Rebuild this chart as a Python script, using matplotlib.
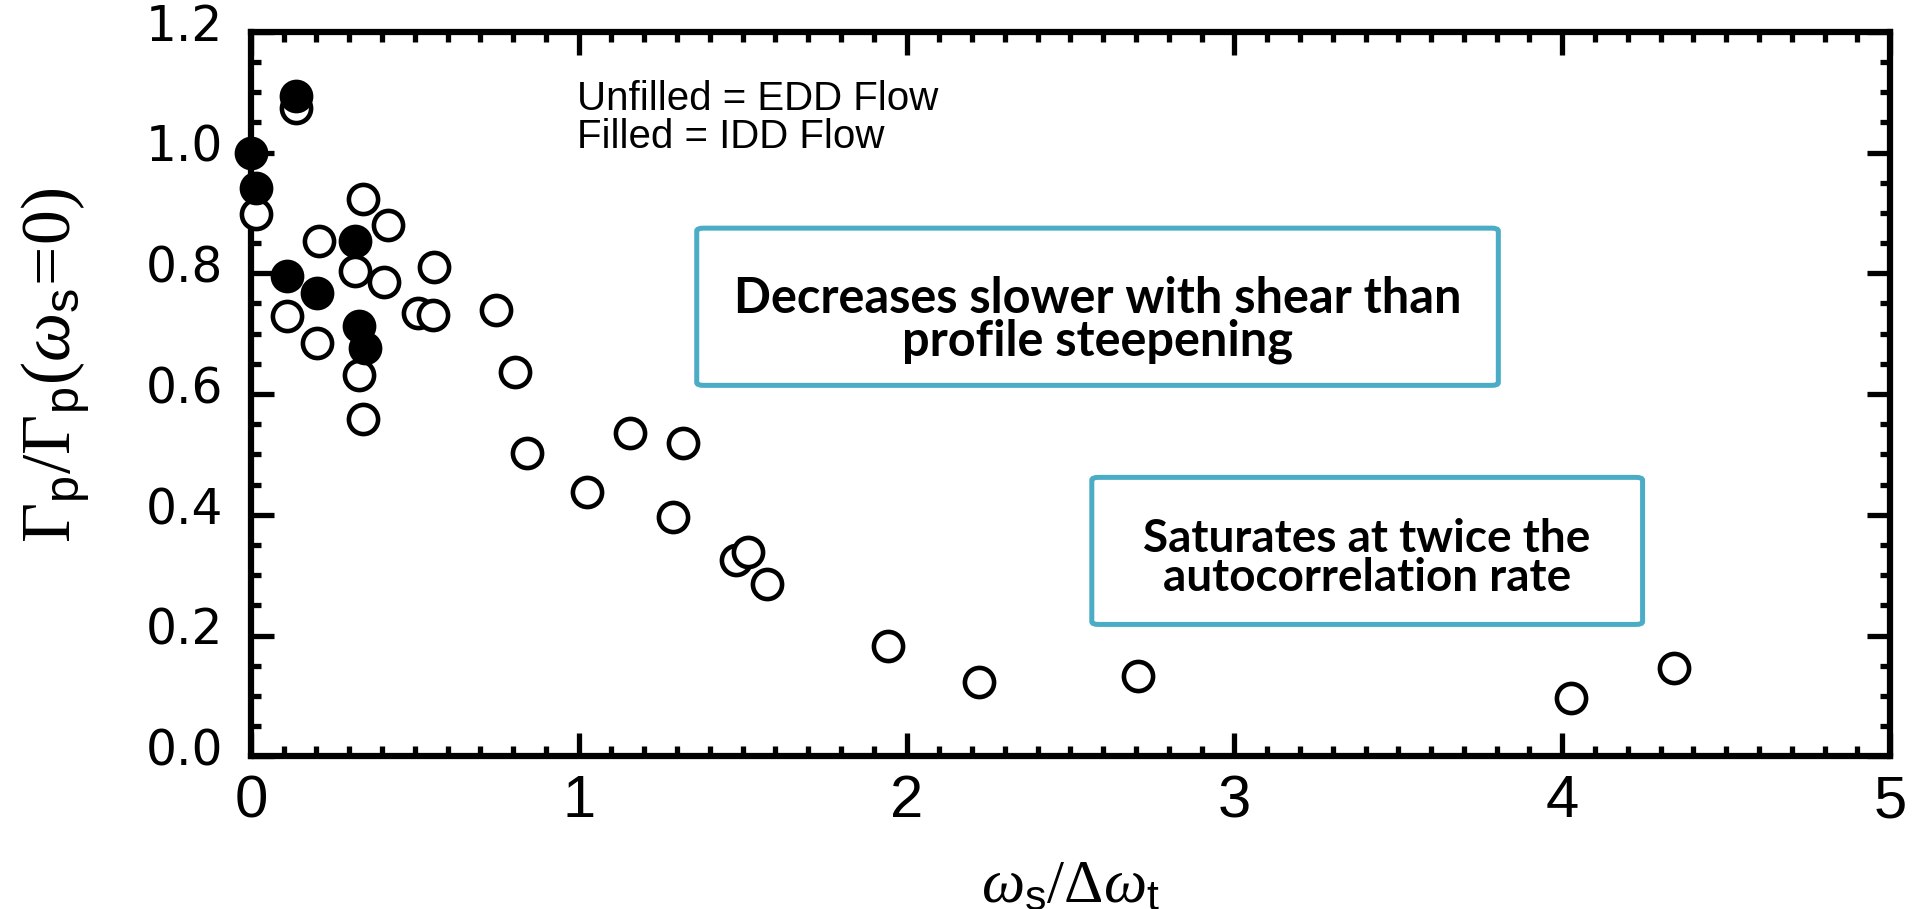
import matplotlib
matplotlib.use("Agg")
import matplotlib.pyplot as plt
from matplotlib.patches import FancyBboxPatch
from matplotlib.ticker import MultipleLocator, FormatStrFormatter
from matplotlib.transforms import ScaledTranslation

# EDD flow runs (open circles): shear rate / decorrelation rate vs normalised flux
edd_shear = [0.139, 0.016, 0.343, 0.419, 0.208, 0.317, 0.406, 0.558, 0.509, 0.556,
             0.749, 0.111, 0.203, 0.331, 0.343, 0.805, 0.841, 1.156, 1.319, 1.024,
             1.288, 1.481, 1.515, 1.573, 1.943, 2.220, 2.705, 4.026, 4.340]
edd_flux = [1.074, 0.898, 0.923, 0.880, 0.853, 0.803, 0.786, 0.810, 0.734, 0.731,
            0.740, 0.729, 0.684, 0.632, 0.558, 0.637, 0.502, 0.536, 0.519, 0.438,
            0.396, 0.325, 0.338, 0.285, 0.183, 0.123, 0.133, 0.097, 0.146]

# IDD flow runs (filled circles)
idd_shear = [0.139, 0.000, 0.016, 0.317, 0.111, 0.203, 0.331, 0.348]
idd_flux = [1.093, 1.000, 0.941, 0.854, 0.795, 0.767, 0.712, 0.676]

key_text = "Unfilled = EDD Flow\nFilled = IDD Flow"
notes = ["Decreases slower with shear than\nprofile steepening",
         "Saturates at twice the\nautocorrelation rate"]
# note boxes in axes fraction: (x0, y0, x1, y1)
note_boxes = [(0.272, 0.512, 0.761, 0.729), (0.513, 0.182, 0.849, 0.385)]
note_sizes = [35, 33]
note_shift = [-0.018, -0.010]

plt.rcParams['mathtext.fontset'] = 'custom'
plt.rcParams['mathtext.rm'] = 'Liberation Serif'
plt.rcParams['mathtext.it'] = 'Liberation Serif:italic'
plt.rcParams['mathtext.sf'] = 'Liberation Sans'

fig = plt.figure(figsize=(19.15, 9.09), dpi=100)
ax = fig.add_axes([0.131, 0.168, 0.856, 0.797])

ax.plot(edd_shear, edd_flux, 'o', ms=21, mfc='white', mec='black', mew=3.3,
        clip_on=False, zorder=3)
ax.plot(idd_shear, idd_flux, 'o', ms=21, mfc='black', mec='black', mew=3.3,
        clip_on=False, zorder=4)

ax.set_xlim(0, 5)
ax.set_ylim(0, 1.2)
ax.xaxis.set_major_locator(MultipleLocator(1))
ax.xaxis.set_minor_locator(MultipleLocator(0.1))
ax.yaxis.set_major_locator(MultipleLocator(0.2))
ax.yaxis.set_minor_locator(MultipleLocator(0.05))
ax.yaxis.set_major_formatter(FormatStrFormatter('%.1f'))

for s in ax.spines.values():
    s.set_linewidth(4.5)
ax.tick_params(which='both', direction='in', top=True, right=True, width=3.8)
ax.tick_params(which='major', length=16.5)
ax.tick_params(which='minor', length=7.2)
ax.tick_params(axis='x', pad=13)
ax.tick_params(axis='y', pad=20)
for lab in ax.get_xticklabels():
    lab.set_fontfamily('Liberation Sans')
    lab.set_fontsize(43)

# y tick labels sit a little above their ticks
lift = ScaledTranslation(0, 7 / 72, fig.dpi_scale_trans)
for tick in ax.yaxis.get_major_ticks():
    tick.label1.set_fontfamily('DejaVu Sans')
    tick.label1.set_fontsize(35)
    tick.label1.set_transform(tick.label1.get_transform() + lift)

ax.set_xlabel(r'$\omega_{\mathsf{s}}/\mathrm{\Delta}\omega_{\mathsf{t}}$', fontsize=44)
ax.xaxis.set_label_coords(0.5, -0.137)
ax.set_ylabel(r'$\mathrm{\Gamma}_{\mathsf{p}}/\mathrm{\Gamma}_{\mathsf{p}}(\omega_{\mathsf{s}}\!=\!0)$',
              fontsize=50)
ax.yaxis.set_label_coords(-0.097, 0.54)

ax.text(0.199, 0.933, key_text, transform=ax.transAxes, fontsize=29,
        family='Liberation Sans', va='top', ha='left', linespacing=1.0)

for (x0, y0, x1, y1), note, size, dy in zip(note_boxes, notes, note_sizes, note_shift):
    box = FancyBboxPatch((x0, y0), x1 - x0, y1 - y0, transform=ax.transAxes,
                         boxstyle='round,pad=0,rounding_size=0.004',
                         fc='white', ec='#4BACC6', lw=3.6, zorder=5)
    ax.add_patch(box)
    ax.text((x0 + x1) / 2, (y0 + y1) / 2 + dy, note, transform=ax.transAxes,
            ha='center', va='center', family='Lato', weight='bold',
            fontsize=size, linespacing=0.92, zorder=6)

fig.savefig('out.png', dpi=100)
